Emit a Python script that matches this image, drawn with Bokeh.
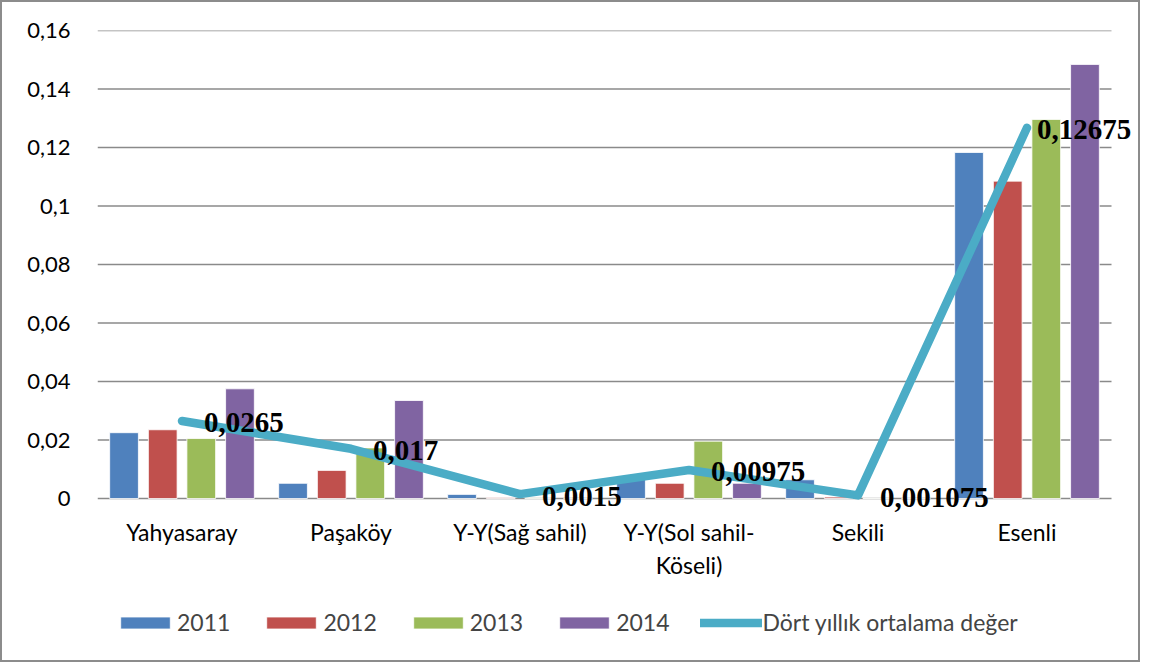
from bokeh.plotting import figure
from bokeh.models import (ColumnDataSource, Range1d, FixedTicker, Legend, LegendItem,
                          CustomJSTickFormatter)
from bokeh.transform import dodge
from bokeh.core.properties import value
from bokeh.embed import file_html
from bokeh.resources import INLINE

# ---- data ----
categories = ["Yahyasaray", "Paşaköy", "Y-Y(Sağ sahil)", "Y-Y(Sol sahil-\nKöseli)", "Sekili", "Esenli"]
years = ["2011", "2012", "2013", "2014"]
v2011 = [0.0225, 0.0052, 0.0014, 0.0065, 0.0064, 0.1183]
v2012 = [0.0235, 0.0096, 0.0003, 0.0052, 0.0005, 0.1085]
v2013 = [0.0205, 0.0173, 0.0002, 0.0196, 0.0001, 0.1296]
v2014 = [0.0375, 0.0335, 0.0001, 0.0052, 0.0001, 0.1484]
avg4 = [0.0265, 0.017, 0.0015, 0.00975, 0.001075, 0.12675]
avg_label = "Dört yıllık ortalama değer"
y_ticks = [0, 0.02, 0.04, 0.06, 0.08, 0.1, 0.12, 0.14, 0.16]

colors = ["#4F81BD", "#C0504D", "#9BBB59", "#8064A2"]
line_color = "#4BACC6"

n = len(categories)
idx = list(range(n))
src = ColumnDataSource(dict(idx=idx, v2011=v2011, v2012=v2012, v2013=v2013, v2014=v2014,
                            avg=avg4, zero=[0] * n, cat=categories,
                            lbl=[repr(v).replace(".", ",") for v in avg4],
                            dx=[22, 22, 22, 22, 22, 10]))

# canvas geometry: frame spans 0..0.16 over 468 px and 6 categories over 1014 px
W, H = 1140, 662
ML, MR, MT, MB = 95, 4, 28, 5
frame_w = W - ML - MR
frame_h = H - MT - MB
px_per_cat = 1014 / n
px_per_unit = 468 / 0.16
x_end = -0.5 + frame_w / px_per_cat
y_start = 0.16 - frame_h / px_per_unit

p = figure(width=W, height=H, output_backend="svg", toolbar_location=None,
           x_range=Range1d(-0.5, x_end), y_range=Range1d(y_start, 0.16),
           x_axis_location=None,
           min_border_left=ML, min_border_right=MR, min_border_top=MT, min_border_bottom=MB)
p.styles = {"border": "2px solid #8c8c8c"}
p.outline_line_color = None
p.background_fill_color = "white"
p.border_fill_color = "white"

# horizontal grid lines across the category area only
p.segment(x0=[-0.5] * len(y_ticks), x1=[n - 0.5] * len(y_ticks), y0=y_ticks, y1=y_ticks,
          line_color="#8a8a8a", line_width=1.5)

offsets = [-0.343, -0.114, 0.114, 0.343]
renderers = []
for col, off, c in zip(["v2011", "v2012", "v2013", "v2014"], offsets, colors):
    r = p.vbar(x=dodge("idx", off), top=col, width=0.17, source=src,
               fill_color=c, line_color="white", line_width=0.8)
    renderers.append(r)

lr = p.line(x="idx", y="avg", source=src, line_color=line_color, line_width=8.5,
            line_cap="round", line_join="round")

p.text(x="idx", y="avg", text="lbl", source=src, x_offset="dx", y_offset=2,
       text_font=value("Liberation Serif"), text_font_style="bold",
       text_font_size="29px", text_baseline="middle", text_align="left", text_color="black")

# category labels under the zero line
p.text(x="idx", y="zero", text="cat", source=src, y_offset=19,
       text_font=value("Lato"), text_font_size="23px", text_align="center",
       text_baseline="top", text_line_height=1.2, text_color="black")

# y axis
p.yaxis.ticker = FixedTicker(ticks=y_ticks)
p.yaxis.formatter = CustomJSTickFormatter(code="return String(Math.round(tick*100)/100).replace('.', ',');")
p.yaxis.axis_line_color = None
p.yaxis.major_tick_line_color = None
p.yaxis.minor_tick_line_color = None
p.yaxis.major_tick_out = 0
p.yaxis.major_label_standoff = 27
p.yaxis.major_label_text_font = "Lato"
p.yaxis.major_label_text_font_size = "22px"
p.yaxis.major_label_text_color = "black"

p.xgrid.grid_line_color = None
p.ygrid.grid_line_color = None

items = [LegendItem(label=y, renderers=[r]) for y, r in zip(years, renderers)]
items.append(LegendItem(label=avg_label, renderers=[lr]))
legend = Legend(items=items, orientation="horizontal", location=(17, 23),
                glyph_width=62, glyph_height=15, label_standoff=1, spacing=30,
                label_text_font="Lato", label_text_font_size="23px",
                border_line_color=None, background_fill_alpha=0, margin=0, padding=4)
p.add_layout(legend, "center")

open("out.html", "w").write(file_html(p, INLINE))
